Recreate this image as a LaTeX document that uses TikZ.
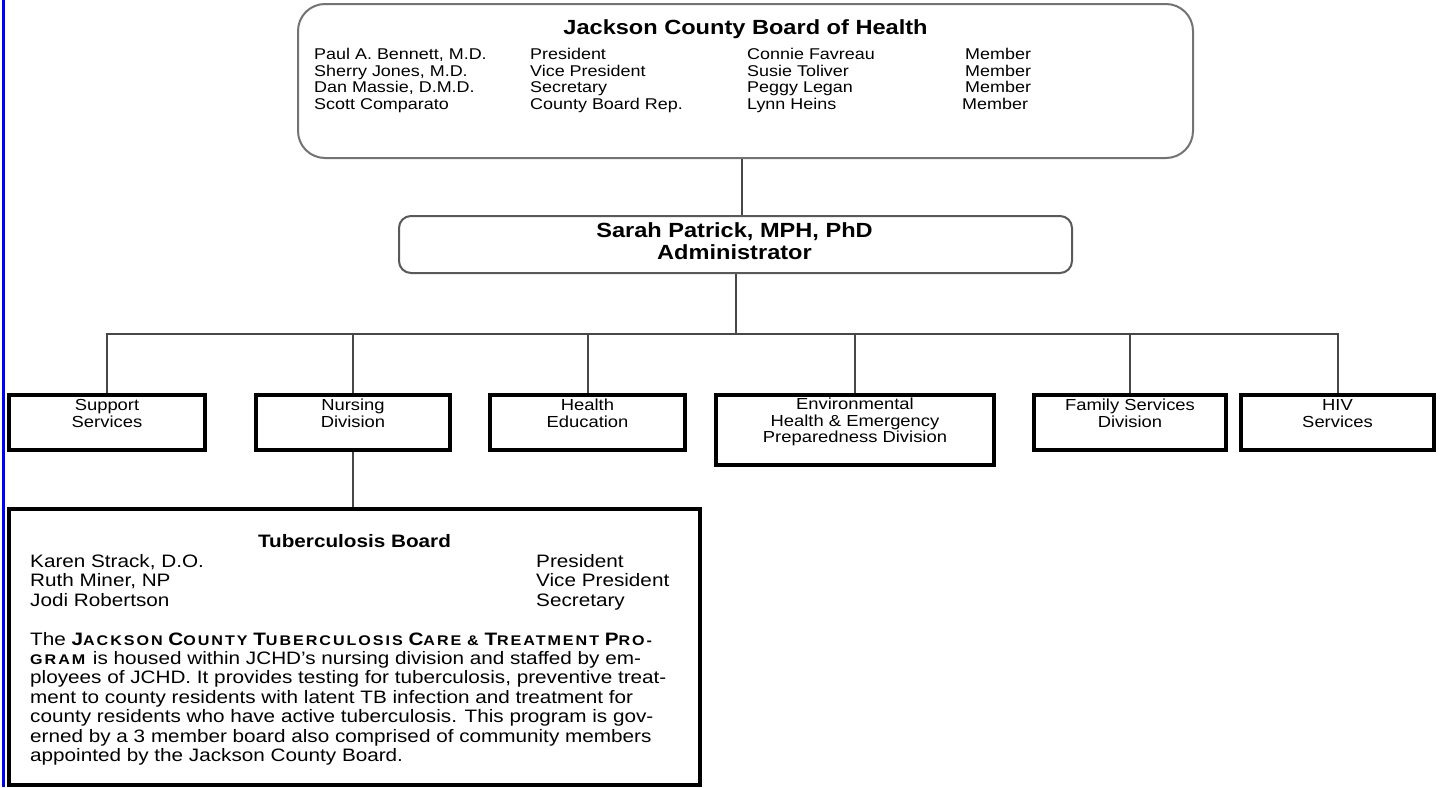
\documentclass[tikz,border=0pt]{standalone}
\usepackage{fontspec}
\setmainfont{Liberation Sans}[FakeStretch=1.15]
\newcommand\fsc[1]{{\fontsize{14}{14}\selectfont\addfontfeature{LetterSpace=14}#1}}
\newcommand\colL[1]{\begin{tabular}[t]{@{}l@{}}#1\end{tabular}}
\newcommand\colC[1]{\begin{tabular}[t]{@{}c@{}}#1\end{tabular}}
\begin{document}
\begin{tikzpicture}[x=1pt,y=-1pt,
  boardbox/.style={draw=black!55, line width=2pt, rounded corners=27pt, inner sep=0pt},
  adminbox/.style={draw=black!65, line width=2pt, rounded corners=12pt, inner sep=0pt},
  divbox/.style={draw=black, line width=4pt, inner sep=0pt, minimum height=55pt},
  conn/.style={draw=black!72, line width=2pt},
  basetext/.style={anchor=base, inner sep=0pt},
  membertext/.style={anchor=base west, inner sep=0pt, font=\fontsize{15.6}{16.6}\selectfont},
  divtext/.style={anchor=base, inner sep=0pt, font=\fontsize{16}{16.5}\selectfont},
  headtext/.style={anchor=base, inner sep=0pt, font=\bfseries\fontsize{20.5}{22}\selectfont},
  tbtext/.style={anchor=base west, inner sep=0pt, font=\fontsize{18}{19.5}\selectfont},
]
\useasboundingbox (0,0) rectangle (1442,787);
\fill[white] (0,0) rectangle (1442,787);
\fill[blue] (1.5,0) rectangle (4.5,787);

% Board of Health
\node[boardbox, minimum width=895pt, minimum height=154pt] (board) at (745.5,81) {};
\node[headtext] (boardtitle) at (745.5,34) {Jackson County Board of Health};
\node[membertext] (bcol1) at (314,59.5) {\colL{Paul A. Bennett, M.D.\\Sherry Jones, M.D.\\Dan Massie, D.M.D.\\Scott Comparato}};
\node[membertext] (bcol2) at (530,59.5) {\colL{President\\Vice President\\Secretary\\County Board Rep.}};
\node[membertext] (bcol3) at (747,59.5) {\colL{Connie Favreau\\Susie Toliver\\Peggy Legan\\Lynn Heins}};
\node[membertext] (bcol4) at (965,59.5) {\colL{Member\\Member\\Member\\\kern-3pt Member}};

% Administrator
\node[adminbox, minimum width=673pt, minimum height=57pt] (admin) at (735.5,244.5) {};
\node[headtext] (admintext) at (734.5,237) {\colC{Sarah Patrick, MPH, PhD\\Administrator}};

% Divisions
\node[divbox, minimum width=196pt] (sup) at (107,422.5) {};
\node[divbox, minimum width=194pt] (nur) at (353,422.5) {};
\node[divbox, minimum width=195pt] (hea) at (587.5,422.5) {};
\node[divbox, minimum width=278pt, minimum height=70pt] (env) at (855,430) {};
\node[divbox, minimum width=192pt] (fam) at (1130,422.5) {};
\node[divbox, minimum width=193pt] (hiv) at (1337.5,422.5) {};

\node[divtext] (suptext) at (107,410.5) {\colC{Support\\Services}};
\node[divtext] (nurtext) at (353,410.5) {\colC{Nursing\\Division}};
\node[divtext] (heatext) at (587.5,410.5) {\colC{Health\\Education}};
\node[divtext] (envtext) at (855,409.5) {\colC{Environmental\\Health \& Emergency\\Preparedness Division}};
\node[divtext] (famtext) at (1130,410.5) {\colC{Family Services\\Division}};
\node[divtext] (hivtext) at (1337.5,410.5) {\colC{HIV\\Services}};

% Tuberculosis board
\node[draw=black, line width=4pt, inner sep=0pt, minimum width=691pt, minimum height=276pt] (tb) at (354.5,647) {};
\node[basetext, font=\bfseries\fontsize{18}{19.5}\selectfont] (tbtitle) at (354.5,547) {Tuberculosis Board};
\node[tbtext] (tbnames) at (30,567) {\colL{Karen Strack, D.O.\\Ruth Miner, NP\\Jodi Robertson}};
\node[tbtext] (tbroles) at (536,567) {\colL{President\\Vice President\\Secretary}};
\node[tbtext, font=\fontsize{18}{19.4}\selectfont] (tbpara) at (30,645) {\colL{%
The \textbf{J\fsc{ACKSON} C\fsc{OUNTY} T\fsc{UBERCULOSIS} C\fsc{ARE} \fsc{\&} T\fsc{REATMENT} P\fsc{RO-}}\\
\textbf{\fsc{GRAM}} is housed within JCHD's nursing division and staffed by em-\\
ployees of JCHD. It provides testing for tuberculosis, preventive treat-\\
ment to county residents with latent TB infection and treatment for\\
county residents who have active tuberculosis. This program is gov-\\
erned by a 3 member board also comprised of community members\\
appointed by the Jackson County Board.}};

% Connectors
\coordinate (topline) at (742,0);
\coordinate (bus) at (0,334);
\draw[conn] (board.south -| topline) -- (admin.north -| topline);
\draw[conn] (admin.south) -- (admin.south |- bus);
\draw[conn] (sup.north) -- (sup.north |- bus) -- (hiv.north |- bus) -- (hiv.north);
\foreach \n in {nur,hea,env,fam} \draw[conn] (\n.north |- bus) -- (\n.north);
\draw[conn] (nur.south) -- (nur.south |- tb.north);
\end{tikzpicture}
\end{document}
